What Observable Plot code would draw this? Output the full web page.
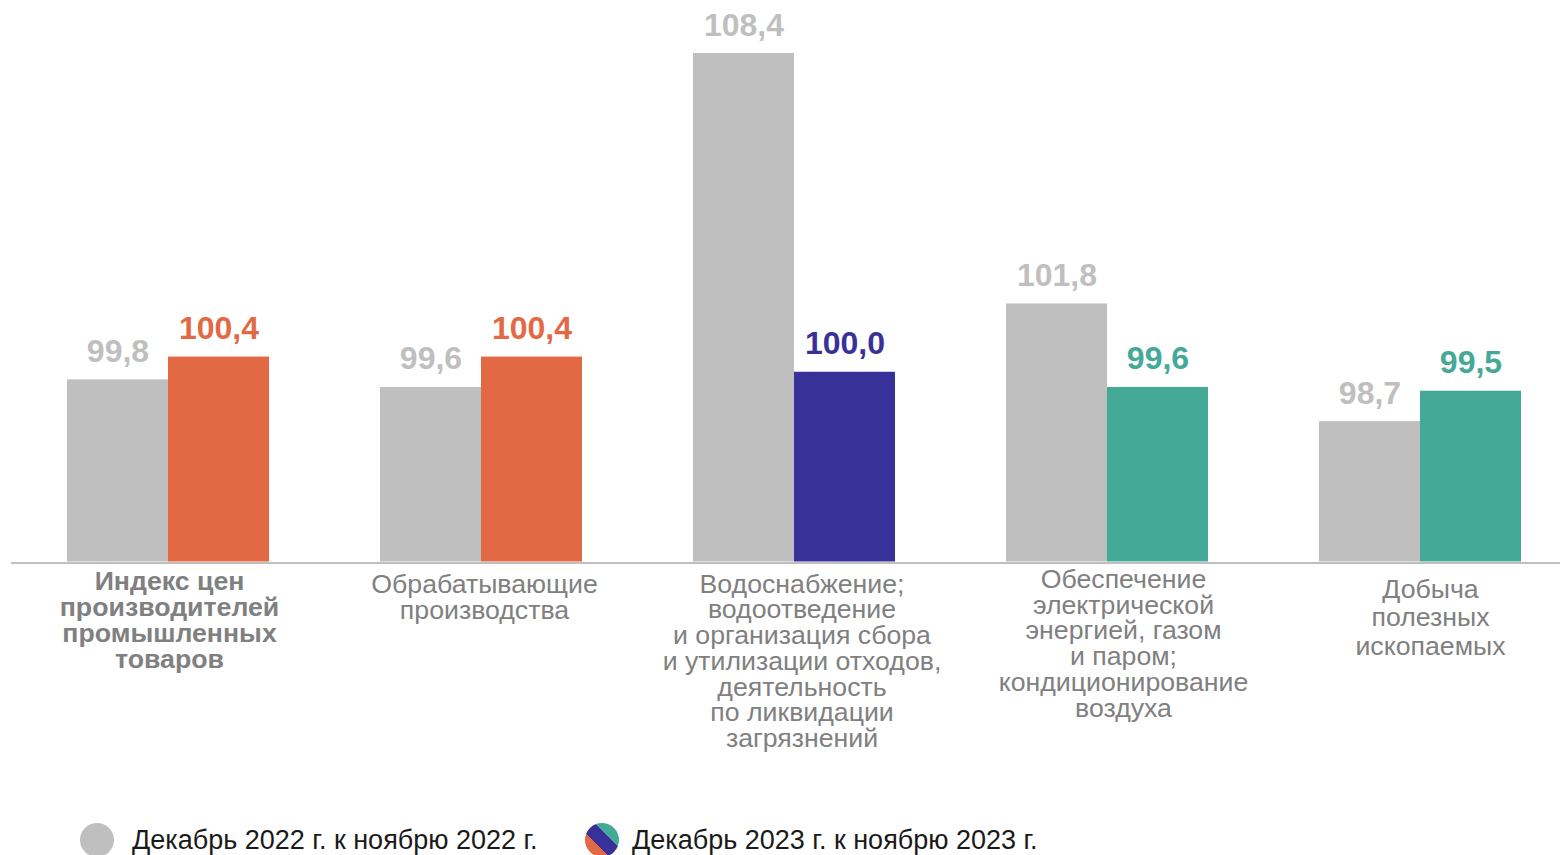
<!DOCTYPE html>
<html>
<head>
<meta charset="utf-8">
<script src="https://cdn.jsdelivr.net/npm/d3@7"></script>
<script src="https://cdn.jsdelivr.net/npm/@observablehq/plot@0.6"></script>
<style>
  html, body { margin: 0; padding: 0; background: #fff; overflow: hidden; }
  body { position: relative; width: 1560px; height: 855px; font-family: "Liberation Sans", Arial, sans-serif; }
  #chart svg { display: block; }
  .leg { position: absolute; top: 823px; height: 34px; display: flex; align-items: center; font-size: 27px; color: #1a1a1a; white-space: nowrap; }
  .dot { width: 34px; height: 34px; border-radius: 50%; flex: none; }
</style>
</head>
<body>
<div id="chart"></div>
<div class="leg" id="leg0" style="left:80px"><span class="dot" style="background:#bfbfbf"></span><span id="legt0" style="margin-left:18px"></span></div>
<div class="leg" id="leg1" style="left:585px"><span class="dot" style="background:linear-gradient(45deg,#e36944 0 36%,#373199 36% 64%,#44a997 64% 100%)"></span><span id="legt1" style="margin-left:13px"></span></div>
<script>
// ---- data ----
const categories = [
  "Индекс цен\nпроизводителей\nпромышленных\nтоваров",
  "Обрабатывающие\nпроизводства",
  "Водоснабжение;\nводоотведение\nи организация сбора\nи утилизации отходов,\nдеятельность\nпо ликвидации\nзагрязнений",
  "Обеспечение\nэлектрической\nэнергией, газом\nи паром;\nкондиционирование\nвоздуха",
  "Добыча\nполезных\nископаемых"
];
const series = ["Декабрь 2022 г. к ноябрю 2022 г.", "Декабрь 2023 г. к ноябрю 2023 г."];
const values2022 = [99.8, 99.6, 108.4, 101.8, 98.7];
const values2023 = [100.4, 100.4, 100.0, 99.6, 99.5];
const baseline = 95;

// ---- styles ----
const gray = "#bfbfbf";
const accent = ["#e36944", "#e36944", "#373199", "#44a997", "#44a997"];
const labelStyle = [
  {dx: 1.5,  dy: 9.5,  lh: 0.975, weight: "bold"},
  {dx: 3.5,  dy: 12.5, lh: 0.975, weight: "normal"},
  {dx: 8,    dy: 12.5, lh: 0.963, weight: "normal"},
  {dx: 16.5, dy: 7.5,  lh: 0.967, weight: "normal"},
  {dx: 10.5, dy: 15.5, lh: 1.07,  weight: "normal"}
];

const data = [];
categories.forEach((c, i) => {
  data.push({category: c, series: series[0], value: values2022[i], color: gray});
  data.push({category: c, series: series[1], value: values2023[i], color: accent[i]});
});
const fmt = v => v.toFixed(1).replace(".", ",");

const chart = Plot.plot({
  width: 1560,
  height: 800,
  marginTop: 53,
  marginBottom: 238.5,
  marginLeft: 11,
  marginRight: -17,
  style: {fontFamily: "'Liberation Sans', Arial, sans-serif", background: "white"},
  fx: {domain: categories, paddingInner: 0.351, paddingOuter: 0.176, axis: null},
  x: {domain: series, padding: 0, axis: null},
  y: {domain: [baseline, d3.max(data, d => d.value)], axis: null},
  color: {type: "identity"},
  marks: [
    Plot.ruleY(categories, {fx: d => d, y: () => baseline, stroke: gray, strokeWidth: 2, dy: 1, insetLeft: -55, insetRight: -55}),
    Plot.barY(data, {fx: "category", x: "series", y1: baseline, y2: "value", fill: "color"}),
    Plot.text(data, {fx: "category", x: "series", y: "value", text: d => fmt(d.value), dy: -18, lineAnchor: "bottom", fill: "color", fontSize: 32, fontWeight: "bold"}),
    ...categories.map((c, i) => Plot.text([c], {
      fx: d => d, frameAnchor: "bottom", text: d => d, lineAnchor: "top",
      dx: labelStyle[i].dx, dy: labelStyle[i].dy, lineHeight: labelStyle[i].lh,
      fontSize: 26.7, fontWeight: labelStyle[i].weight, fill: "#808080"
    }))
  ]
});
document.getElementById("chart").appendChild(chart);
document.getElementById("legt0").textContent = series[0];
document.getElementById("legt1").textContent = series[1];
</script>
</body>
</html>
